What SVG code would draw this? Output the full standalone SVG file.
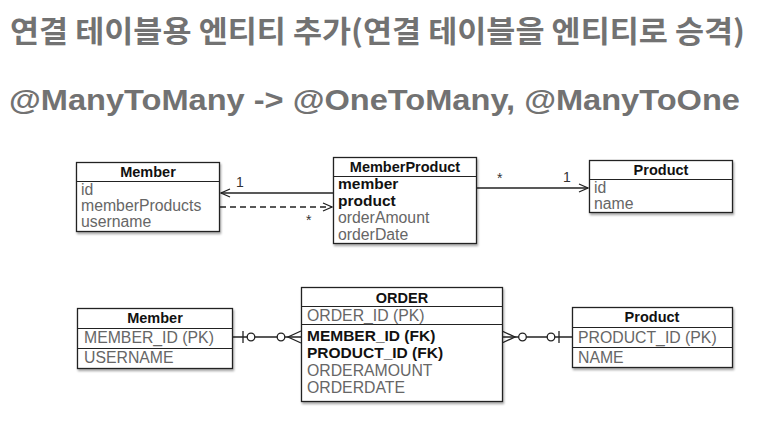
<svg xmlns="http://www.w3.org/2000/svg" width="778" height="428" viewBox="0 0 778 428">
<defs>
<filter id="sh" x="-10%" y="-10%" width="130%" height="130%">
<feDropShadow dx="1" dy="2" stdDeviation="1" flood-color="#000" flood-opacity="0.35"/>
</filter>
<marker id="open" markerWidth="12" markerHeight="10" refX="10" refY="5" orient="auto" markerUnits="userSpaceOnUse">
<path d="M1,1 L10,5 L1,9" fill="none" stroke="#222" stroke-width="1.3"/>
</marker>
</defs>
<style>
.title{font-family:"Noto Sans CJK KR","Liberation Sans",sans-serif;font-weight:bold;fill:#727272}
.sub{font-family:"Liberation Sans",Arial,sans-serif;font-weight:bold;fill:#727272}
.box{fill:#fff;stroke:#222;stroke-width:1.3;filter:url(#sh)}
.sep{stroke:#222;stroke-width:1.2}
.hd{font-family:"Liberation Sans",Arial,sans-serif;font-size:14.5px;font-weight:bold;fill:#111;text-anchor:middle}
.f{font-family:"Liberation Sans",Arial,sans-serif;font-size:15.8px;fill:#666}
.fb{font-family:"Liberation Sans",Arial,sans-serif;font-size:15.5px;fill:#111;font-weight:bold}
.ln{stroke:#222;stroke-width:1.3;fill:none}
.lbl{font-family:"Liberation Sans",Arial,sans-serif;font-size:14px;fill:#333}
.cf{stroke:#222;stroke-width:1.3;fill:#fff}
</style>
<text class="title" x="10" y="42" font-size="30" textLength="735" lengthAdjust="spacingAndGlyphs">연결 테이블용 엔티티 추가(연결 테이블을 엔티티로 승격)</text>
<text class="sub" x="9" y="110" font-size="30" textLength="731" lengthAdjust="spacingAndGlyphs">@ManyToMany -&gt; @OneToMany, @ManyToOne</text>

<g id="connectors">
<line class="ln" x1="333" y1="193" x2="221" y2="193" marker-end="url(#open)"/>
<line class="ln" x1="220" y1="207" x2="332" y2="207" stroke-dasharray="6,4" marker-end="url(#open)"/>
<line class="ln" x1="476" y1="188" x2="588" y2="188" marker-end="url(#open)"/>
<text class="lbl" x="236" y="187">1</text>
<text class="lbl" x="306" y="225">*</text>
<text class="lbl" x="497" y="183">*</text>
<text class="lbl" x="563" y="182">1</text>
<!-- bottom left -->
<line class="ln" x1="232" y1="337" x2="301" y2="337"/>
<line class="ln" x1="243" y1="331" x2="243" y2="343"/>
<circle class="cf" cx="251" cy="337" r="3.8"/>
<circle class="cf" cx="281" cy="337" r="3.8"/>
<path class="ln" d="M301,331 L288,337 L301,343"/>
<!-- bottom right -->
<line class="ln" x1="502" y1="337" x2="572" y2="337"/>
<path class="ln" d="M502,331 L515,337 L502,343"/>
<circle class="cf" cx="522.5" cy="337" r="3.8"/>
<circle class="cf" cx="551" cy="337" r="3.8"/>
<line class="ln" x1="559" y1="331" x2="559" y2="343"/>
</g>

<g id="member-top">
<rect class="box" x="76.5" y="162.5" width="143" height="69"/>
<line class="sep" x1="76.5" y1="181.5" x2="219.5" y2="181.5"/>
<text class="hd" x="148" y="177">Member</text>
<text class="f" x="81" y="195">id</text>
<text class="f" x="81" y="211">memberProducts</text>
<text class="f" x="81" y="227">username</text>
</g>

<g id="memberproduct">
<rect class="box" x="333.5" y="157.5" width="143" height="86"/>
<line class="sep" x1="333.5" y1="176.5" x2="476.5" y2="176.5"/>
<text class="hd" x="405" y="172">MemberProduct</text>
<text class="fb" x="338" y="189">member</text>
<text class="fb" x="338" y="206">product</text>
<text class="f" x="338" y="223">orderAmount</text>
<text class="f" x="338" y="240">orderDate</text>
</g>

<g id="product-top">
<rect class="box" x="589.5" y="160.5" width="143" height="52"/>
<line class="sep" x1="589.5" y1="179.5" x2="732.5" y2="179.5"/>
<text class="hd" x="661" y="175">Product</text>
<text class="f" x="594" y="193">id</text>
<text class="f" x="594" y="209">name</text>
</g>

<g id="member-bottom">
<rect class="box" x="77.5" y="308.5" width="155" height="60"/>
<line class="sep" x1="77.5" y1="328.5" x2="232.5" y2="328.5"/>
<line class="sep" x1="77.5" y1="348.5" x2="232.5" y2="348.5"/>
<text class="hd" x="155" y="323">Member</text>
<text class="f" x="84" y="343" font-size="16.5">MEMBER_ID (PK)</text>
<text class="f" x="84" y="363" font-size="16.5">USERNAME</text>
</g>

<g id="order">
<rect class="box" x="301.5" y="287.5" width="201" height="114"/>
<line class="sep" x1="301.5" y1="306.5" x2="502.5" y2="306.5"/>
<line class="sep" x1="301.5" y1="324.5" x2="502.5" y2="324.5"/>
<text class="hd" x="402" y="303">ORDER</text>
<text class="f" x="307" y="321" font-size="16.3">ORDER_ID (PK)</text>
<text class="fb" x="307" y="341" font-size="15.7">MEMBER_ID (FK)</text>
<text class="fb" x="307" y="358" font-size="15.7">PRODUCT_ID (FK)</text>
<text class="f" x="307" y="376" font-size="16.3">ORDERAMOUNT</text>
<text class="f" x="307" y="393" font-size="16.3">ORDERDATE</text>
</g>

<g id="product-bottom">
<rect class="box" x="572.5" y="307.5" width="160" height="60"/>
<line class="sep" x1="572.5" y1="327.5" x2="732.5" y2="327.5"/>
<line class="sep" x1="572.5" y1="347.5" x2="732.5" y2="347.5"/>
<text class="hd" x="652" y="322">Product</text>
<text class="f" x="578" y="343" font-size="16.5">PRODUCT_ID (PK)</text>
<text class="f" x="578" y="363" font-size="16.5">NAME</text>
</g>
</svg>
